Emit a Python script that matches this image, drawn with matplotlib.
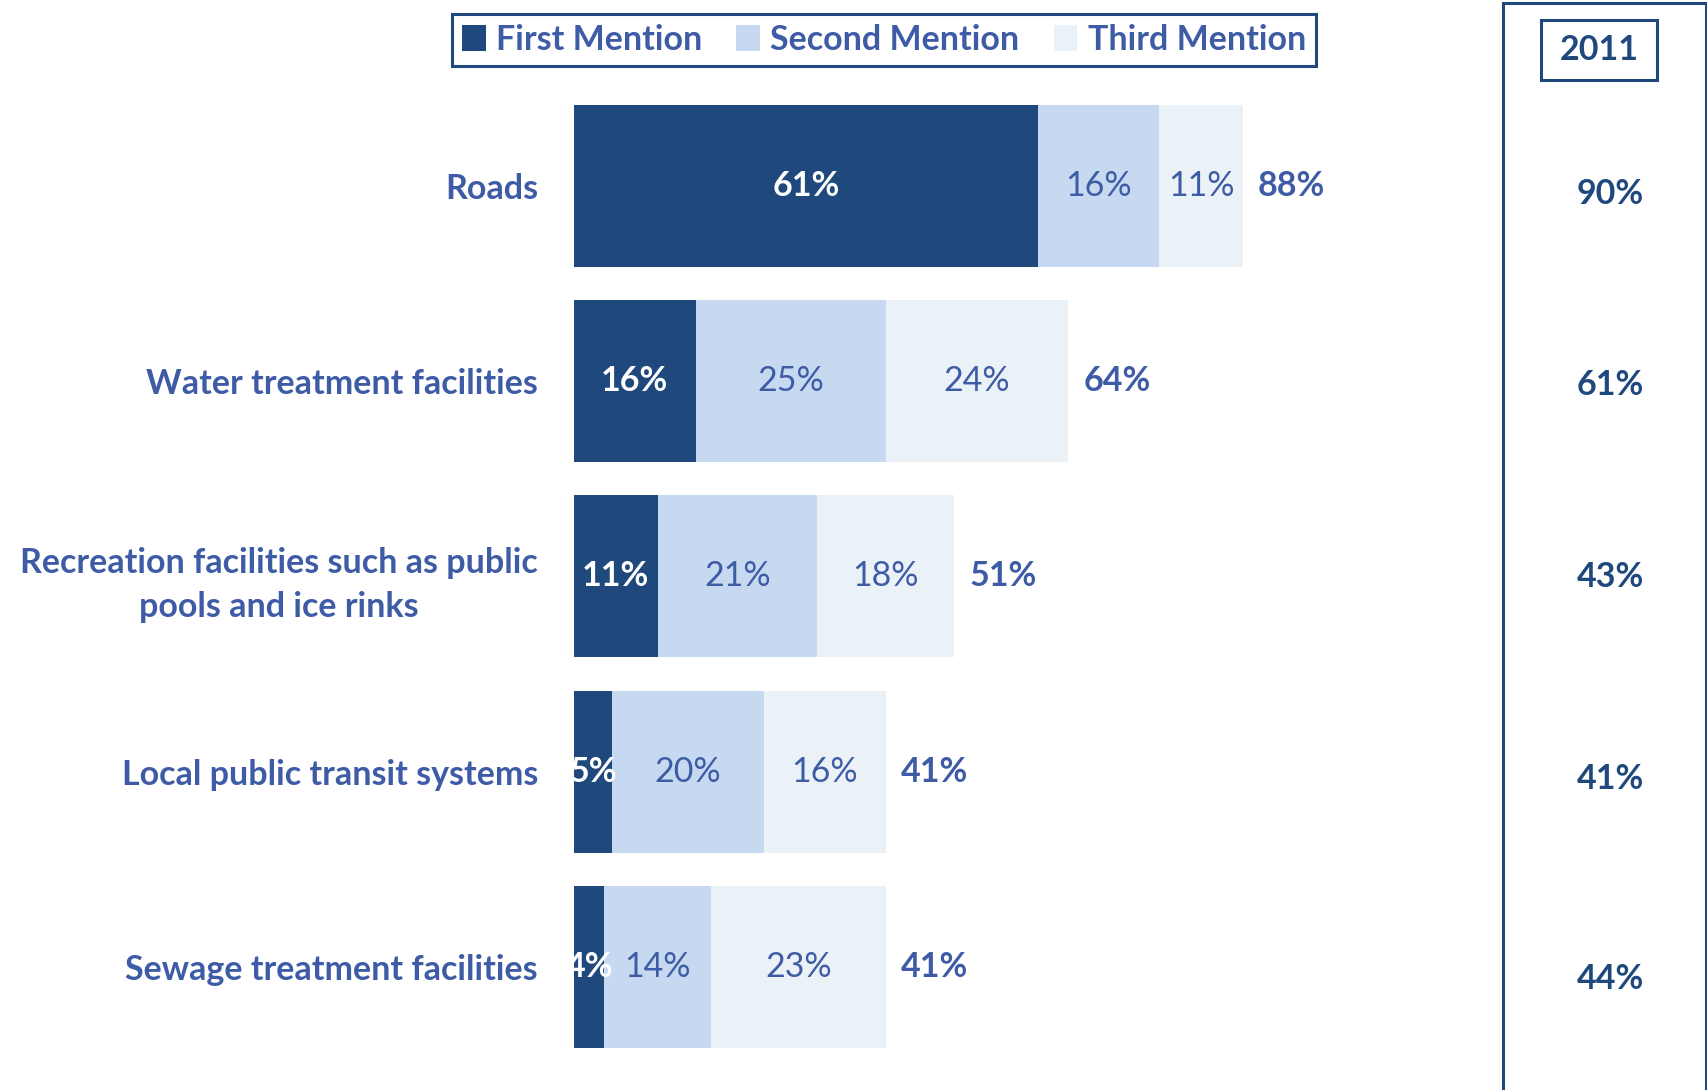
import matplotlib.pyplot as plt
from matplotlib.patches import Rectangle

categories = ['Roads', 'Water treatment facilities',
              'Recreation facilities such as public\npools and ice rinks',
              'Local public transit systems', 'Sewage treatment facilities']
first = [61, 16, 11, 5, 4]
second = [16, 25, 21, 20, 14]
third = [11, 24, 18, 16, 23]
totals = [88, 64, 51, 41, 41]
prev_2011 = [90, 61, 43, 41, 44]
series_names = ['First Mention', 'Second Mention', 'Third Mention']

navy = '#1F497D'
light = '#C6D9F0'
pale = '#EAF2F8'
txt = '#3E5BA6'
fs = 24.5

plt.rcParams['font.family'] = ['Lato', 'DejaVu Sans']

W, H = 1708, 1090
fig = plt.figure(figsize=(W / 100, H / 100), dpi=100)

# bar axes: x=0 at pixel 574, 7.6 px per percent
ax = fig.add_axes([574 / W, 0, (1500 - 574) / W, 1])
ax.set_xlim(0, (1500 - 574) / 7.6)
pitch = 195.2
ax.set_ylim((H - 186) / pitch, -186 / pitch)
for s in ax.spines.values():
    s.set_visible(False)
ax.set_xticks([])

y = list(range(len(categories)))
h = 0.83
left = [0] * len(y)
cols = [navy, light, pale]
for vals, c, name in zip([first, second, third], cols, series_names):
    ax.barh(y, vals, left=left, height=h, color=c, label=name)
    for i, v in enumerate(vals):
        cx = left[i] + v / 2
        if c == navy:
            ax.text(cx, i, f'{v}%', ha='center', va='center', color='white',
                    fontsize=fs, fontweight='bold')
        else:
            ax.text(cx, i, f'{v}%', ha='center', va='center', color=txt,
                    fontsize=fs)
    left = [l + v for l, v in zip(left, vals)]

for i, (l, t) in enumerate(zip(left, totals)):
    ax.text(l + 2, i, f'{t}%', ha='left', va='center', color=txt,
            fontsize=fs, fontweight='bold')

ax.set_yticks(y, categories)
ax.tick_params(axis='y', length=0, pad=26)
for lab in ax.get_yticklabels():
    lab.set_color(txt)
    lab.set_fontsize(fs)
    lab.set_fontweight('bold')
    lab.set_multialignment('center')
    lab.set_linespacing(1.45)

leg = fig.legend(loc='center', bbox_to_anchor=(884 / W, 1 - 40 / H), ncol=3,
                 frameon=True, fancybox=False, edgecolor=navy, framealpha=1,
                 handlelength=0.7, handleheight=0.8, handletextpad=0.3,
                 columnspacing=1.0, borderpad=0.3, fontsize=fs)
leg.get_frame().set_linewidth(2.2)
for t in leg.get_texts():
    t.set_color(txt)
    t.set_fontweight('bold')

# right panel with 2011 results
fig.patches.append(Rectangle((1503 / W, -0.05), (1706 - 1503) / W, 1.05 - 3 / H,
                             transform=fig.transFigure, fill=False,
                             edgecolor=navy, linewidth=2.2))
fig.patches.append(Rectangle((1541 / W, 1 - 80 / H), (1657 - 1541) / W, 60 / H,
                             transform=fig.transFigure, fill=False,
                             edgecolor=navy, linewidth=2.2))
fig.text(1599 / W, 1 - 50 / H, '2011', ha='center', va='center', color=navy,
         fontsize=fs, fontweight='bold')
col_y = [194, 385, 577, 779, 979]
for v, py in zip(prev_2011, col_y):
    fig.text(1610 / W, 1 - py / H, f'{v}%', ha='center', va='center',
             color=navy, fontsize=fs, fontweight='bold')

fig.savefig('out.png', dpi=100)
